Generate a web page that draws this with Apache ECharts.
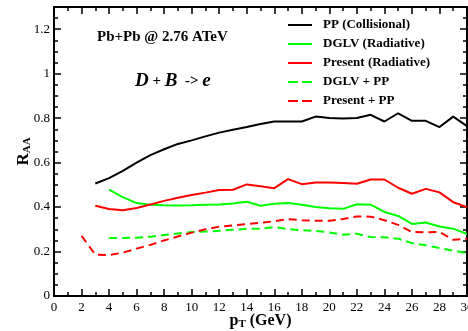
<!DOCTYPE html>
<html>
<head>
<meta charset="utf-8">
<script src="https://cdn.jsdelivr.net/npm/echarts@6/dist/echarts.min.js"></script>
<style>html,body{margin:0;padding:0;background:#fff;}#c{width:468px;height:331px;}</style>
</head>
<body>
<div id="c"></div>
<script>
// pT values
var xPP = [3,4,5,6,7,8,9,10,11,12,13,14,15,16,17,18,19,20,21,22,23,24,25,26,27,28,29,30];
var ppColl = [0.506,0.530,0.563,0.600,0.634,0.660,0.684,0.700,0.718,0.735,0.748,0.760,0.774,0.785,0.785,0.785,0.807,0.801,0.798,0.801,0.815,0.785,0.822,0.788,0.788,0.760,0.807,0.764];
var xPresent = [3,4,5,6,7,8,9,10,11,12,13,14,15,16,17,18,19,20,21,22,23,24,25,26,27,28,29,30];
var presentRad = [0.406,0.391,0.386,0.396,0.412,0.428,0.442,0.454,0.465,0.477,0.478,0.502,0.494,0.485,0.526,0.503,0.511,0.511,0.508,0.505,0.524,0.524,0.487,0.460,0.482,0.466,0.422,0.400];
var xDGLV = [4,5,6,7,8,9,10,11,12,13,14,15,16,17,18,19,20,21,22,23,24,25,26,27,28,29,30];
var dglvRad = [0.478,0.445,0.418,0.410,0.408,0.407,0.408,0.410,0.412,0.416,0.424,0.406,0.415,0.418,0.410,0.400,0.395,0.392,0.413,0.411,0.378,0.360,0.324,0.331,0.313,0.303,0.279];
var xDGLVPP = [4,5,6,7,8,9,10,11,12,13,14,15,16,17,18,19,20,21,22,23,24,25,26,27,28,29,30];
var dglvPP = [0.261,0.261,0.262,0.267,0.274,0.281,0.288,0.290,0.293,0.298,0.302,0.302,0.310,0.301,0.296,0.293,0.286,0.276,0.280,0.265,0.264,0.258,0.238,0.228,0.216,0.204,0.193];
var xPresentPP = [2,3,4,5,6,7,8,9,10,11,12,13,14,15,16,17,18,19,20,21,22,23,24,25,26,27,28,29,30];
var presentPP = [0.271,0.186,0.184,0.195,0.213,0.230,0.250,0.268,0.285,0.300,0.312,0.318,0.324,0.330,0.336,0.346,0.341,0.339,0.339,0.346,0.358,0.357,0.341,0.320,0.288,0.286,0.288,0.253,0.258];

var names = ['PP (Collisional)','DGLV (Radiative)','Present (Radiative)','DGLV + PP','Present + PP'];
var dashedFlags = [false, false, false, true, true];

function pairs(xs, ys){ return xs.map(function(x,i){ return [x, ys[i]]; }); }

var FONT = '"Liberation Serif", "DejaVu Serif", serif';
var ICON_SOLID = 'path://M0,0M24,14M0,6h24v2h-24z';
var ICON_DASH = 'path://M0,0M24,14M0,6h10v2h-10zM14,6h10v2h-10z';

function mkSeries(name, xs, ys, color, dashed){
  return {
    name: name, type: 'line', data: pairs(xs, ys),
    showSymbol: false, symbol: 'none', smooth: false,
    lineStyle: { color: color, width: 2, type: dashed ? [8,5] : 'solid' },
    itemStyle: { color: color },
    emphasis: { disabled: true }, animation: false
  };
}

var axisLineStyle = { color: '#000', width: 2 };
function xAx(pos, labels){
  return {
    type: 'value', min: 0, max: 30, interval: 2, position: pos,
    axisLine: { show: true, onZero: false, lineStyle: axisLineStyle },
    axisTick: { show: true, inside: true, length: 7, lineStyle: { color: '#000', width: 1.5 } },
    minorTick: { show: true, splitNumber: 2, length: 4, lineStyle: { color: '#000', width: 1.5 } },
    splitLine: { show: false },
    axisLabel: { show: labels, color: '#000', fontFamily: FONT, fontSize: 13, margin: 5 },
    name: labels ? '{p|p}{s|T}{p| (GeV)}' : '', nameLocation: 'middle', nameGap: 15, nameMoveOverlap: false,
    nameTextStyle: { rich: {
      p: { fontFamily: FONT, fontWeight: 'bold', fontSize: 16, color: '#000' },
      s: { fontFamily: FONT, fontWeight: 'bold', fontSize: 11, color: '#000', verticalAlign: 'bottom', padding: [8,0,0,0] }
    } }
  };
}
function yAx(pos, labels){
  return {
    type: 'value', min: 0, max: 1.3, interval: 0.2, position: pos,
    axisLine: { show: true, onZero: false, lineStyle: axisLineStyle },
    axisTick: { show: true, inside: true, length: 7, lineStyle: { color: '#000', width: 1.5 } },
    minorTick: { show: true, splitNumber: 4, length: 4, lineStyle: { color: '#000', width: 1.5 } },
    splitLine: { show: false },
    axisLabel: { show: labels, color: '#000', fontFamily: FONT, fontSize: 13, margin: 4,
      formatter: function(v){ var r = Math.round(v*10)/10; if (Math.abs(v - 1.3) < 1e-6) return ''; return String(r); } },
    name: labels ? '{p|R}{s|AA}' : '', nameLocation: 'middle', nameRotate: 90, nameGap: 21, nameMoveOverlap: false,
    nameTextStyle: { rich: {
      p: { fontFamily: FONT, fontWeight: 'bold', fontSize: 17, color: '#000' },
      s: { fontFamily: FONT, fontWeight: 'bold', fontSize: 11, color: '#000', verticalAlign: 'bottom', padding: [8,0,0,0] }
    } }
  };
}

var chart = echarts.init(document.getElementById('c'), null, { renderer: 'canvas' });
chart.setOption({
  animation: false,
  backgroundColor: '#fff',
  grid: { left: 54, right: 1, top: 7, bottom: 35, containLabel: false, outerBoundsMode: 'none' },
  xAxis: [xAx('bottom', true), xAx('top', false)],
  yAxis: [yAx('left', true), yAx('right', false)],
  legend: {
    orient: 'vertical', left: 288, top: 18, padding: 0, itemWidth: 24, itemHeight: 14, itemGap: 5,
    data: names.map(function(n, i){ return { name: n, icon: dashedFlags[i] ? ICON_DASH : ICON_SOLID }; }),
    itemStyle: { borderWidth: 0 },
    textStyle: { fontFamily: FONT, fontWeight: 'bold', fontSize: 13, color: '#000', padding: [0,0,0,6] },
    selectedMode: false
  },
  graphic: [
    { type: 'text', left: 97, top: 30, style: { text: 'Pb+Pb @ 2.76 ATeV', font: 'bold 15px ' + FONT, fill: '#000' } },
    { type: 'text', left: 135, top: 72, style: {
      text: '{i|D}{n| + }{i|B}{n|  -> }{i|e}',
      rich: {
        i: { fontFamily: FONT, fontStyle: 'italic', fontWeight: 'bold', fontSize: 19, fill: '#000' },
        n: { fontFamily: FONT, fontWeight: 'bold', fontSize: 15, fill: '#000' }
      } } }
  ],
  series: [
    mkSeries(names[0], xPP, ppColl, '#000000', false),
    mkSeries(names[1], xDGLV, dglvRad, '#00ff00', false),
    mkSeries(names[2], xPresent, presentRad, '#ff0000', false),
    mkSeries(names[3], xDGLVPP, dglvPP, '#00ff00', true),
    mkSeries(names[4], xPresentPP, presentPP, '#ff0000', true)
  ]
});
</script>
</body>
</html>
